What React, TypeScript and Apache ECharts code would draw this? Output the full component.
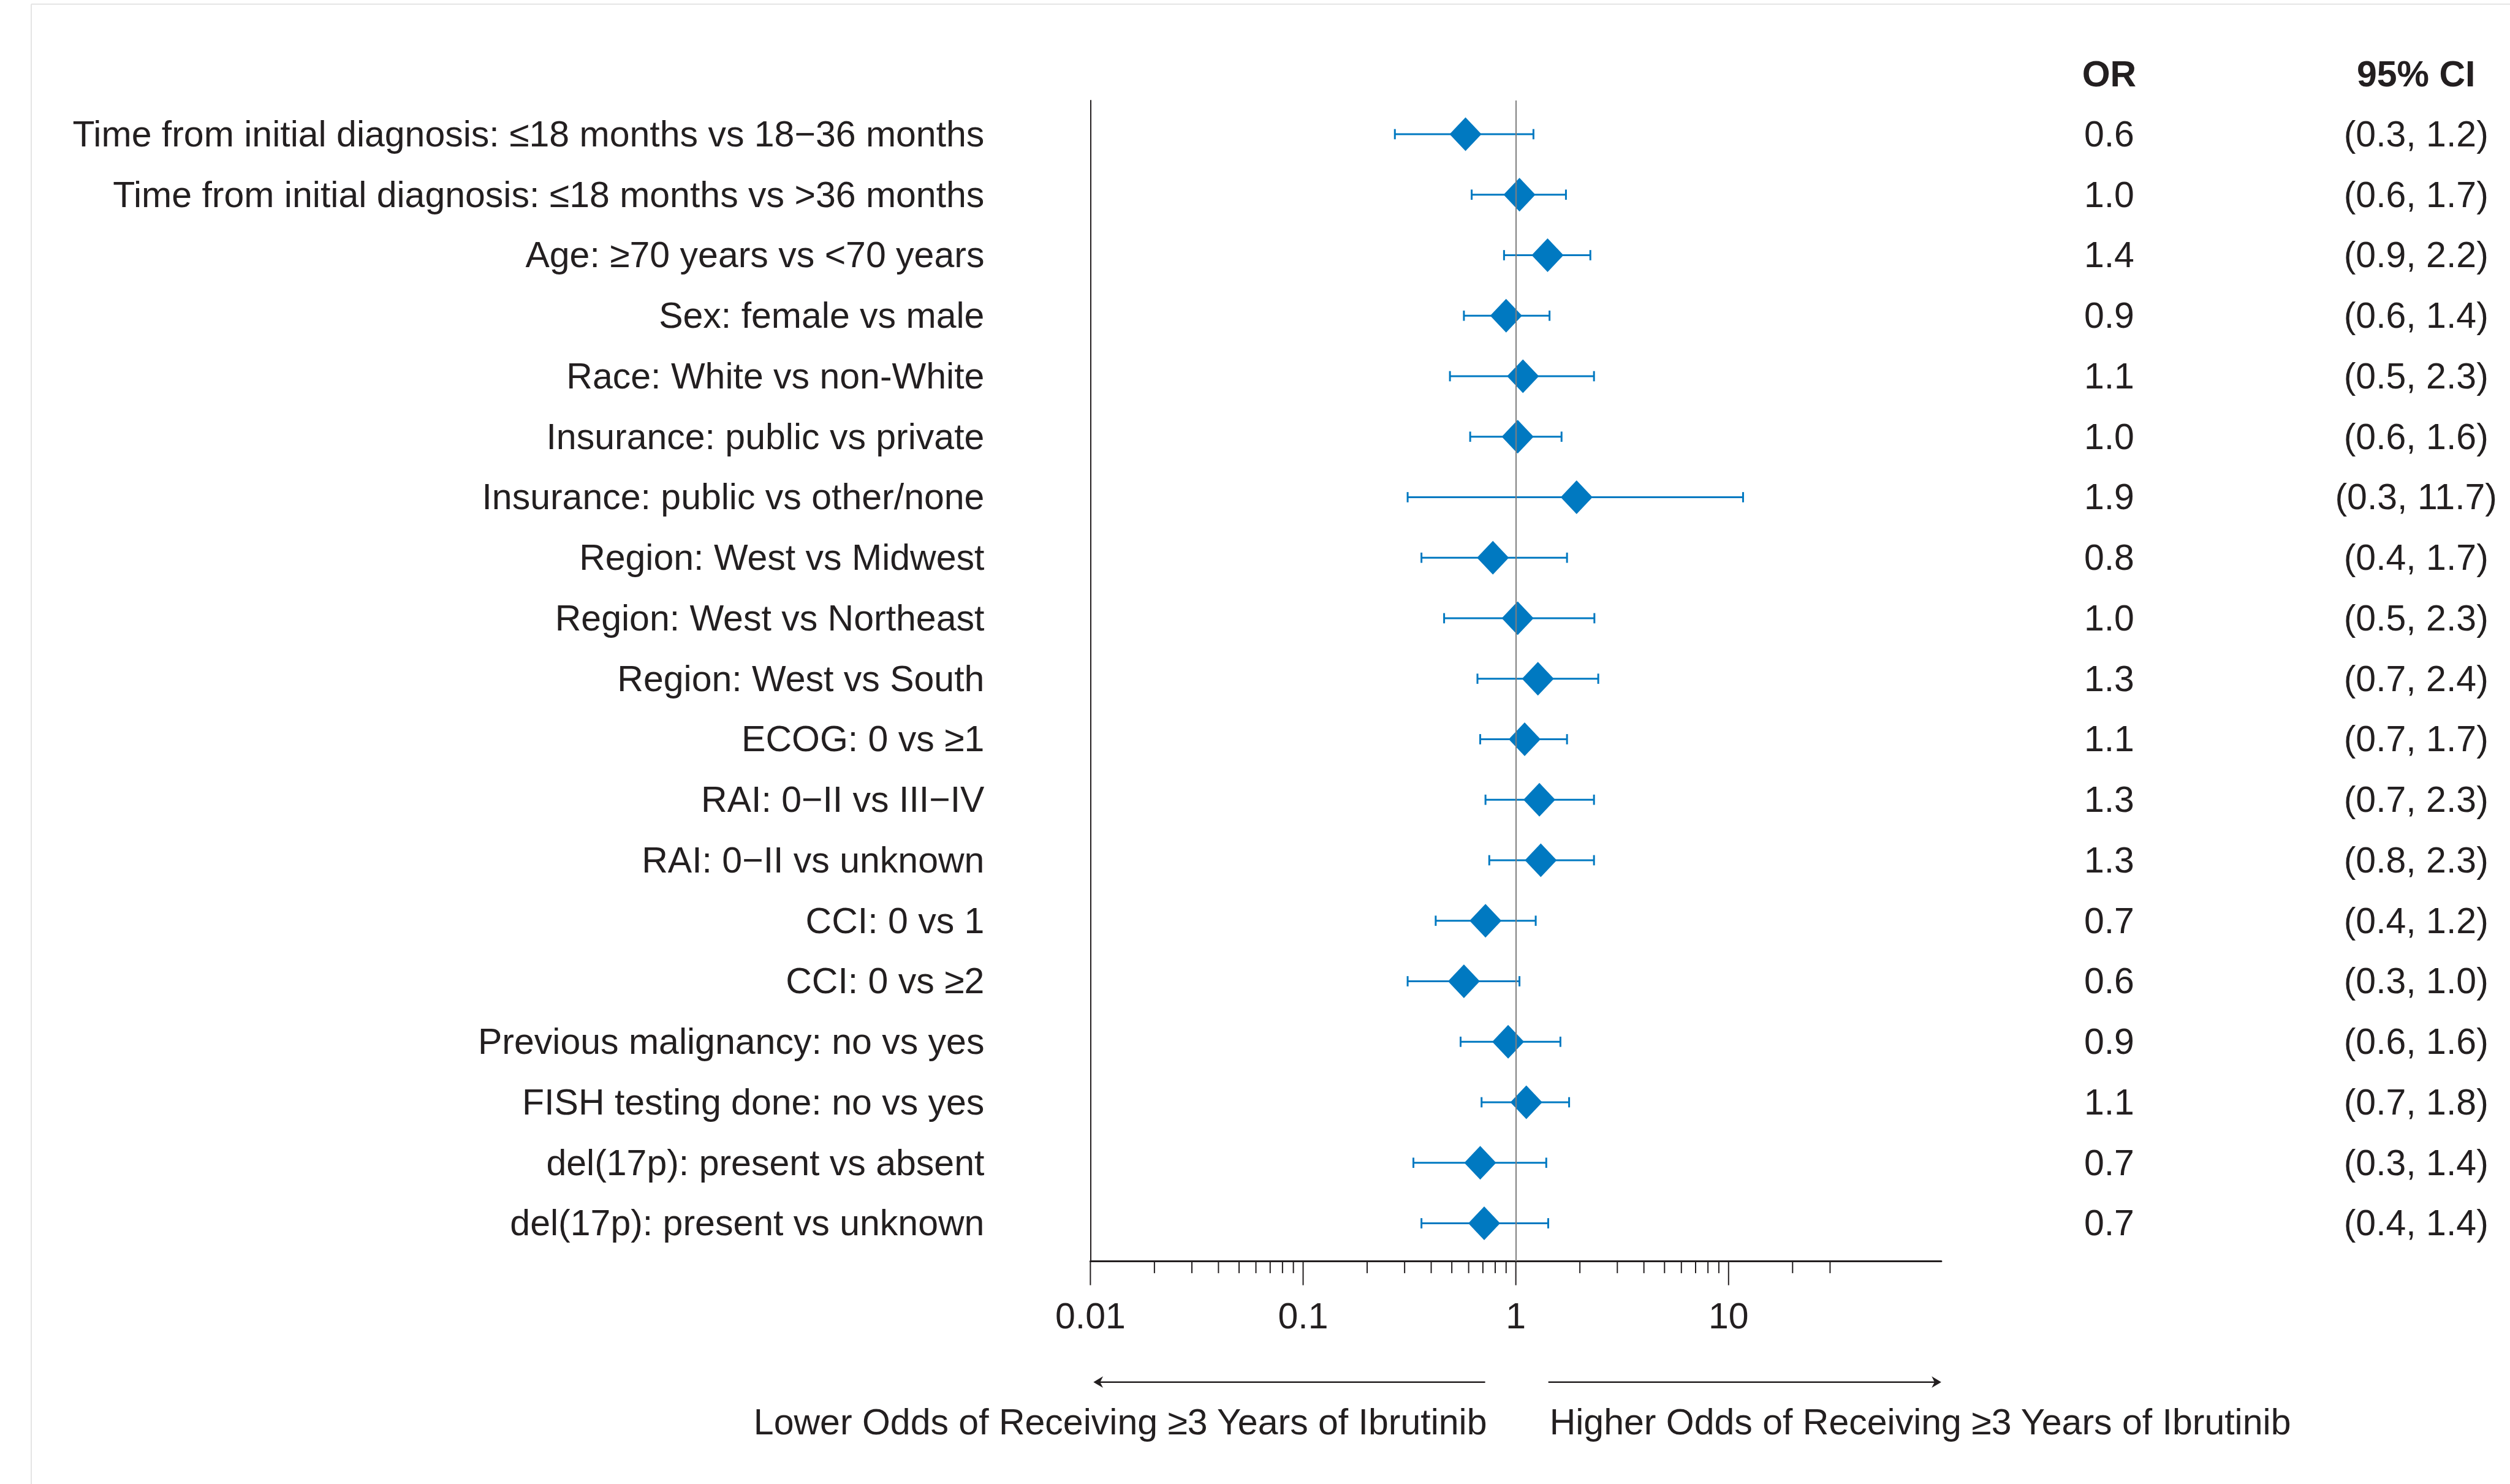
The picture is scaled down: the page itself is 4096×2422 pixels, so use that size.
import React, { useEffect, useRef } from "react";
import * as echarts from "echarts";

// ---------- data ----------
const rowLabels = [
  "Time from initial diagnosis: ≤18 months vs 18−36 months",
  "Time from initial diagnosis: ≤18 months vs >36 months",
  "Age: ≥70 years vs <70 years",
  "Sex: female vs male",
  "Race: White vs non-White",
  "Insurance: public vs private",
  "Insurance: public vs other/none",
  "Region: West vs Midwest",
  "Region: West vs Northeast",
  "Region: West vs South",
  "ECOG: 0 vs ≥1",
  "RAI: 0−II vs III−IV",
  "RAI: 0−II vs unknown",
  "CCI: 0 vs 1",
  "CCI: 0 vs ≥2",
  "Previous malignancy: no vs yes",
  "FISH testing done: no vs yes",
  "del(17p): present vs absent",
  "del(17p): present vs unknown",
];
const orValues = [0.58, 1.04, 1.41, 0.9, 1.08, 1.02, 1.93, 0.78, 1.02, 1.27, 1.1, 1.29, 1.31, 0.72, 0.57, 0.92, 1.12, 0.68, 0.71];
const ciLower = [0.27, 0.62, 0.88, 0.57, 0.49, 0.61, 0.31, 0.36, 0.46, 0.66, 0.68, 0.72, 0.75, 0.42, 0.31, 0.55, 0.69, 0.33, 0.36];
const ciUpper = [1.21, 1.72, 2.24, 1.44, 2.33, 1.64, 11.7, 1.74, 2.34, 2.44, 1.74, 2.33, 2.33, 1.24, 1.04, 1.62, 1.78, 1.39, 1.42];
const orText = ["0.6", "1.0", "1.4", "0.9", "1.1", "1.0", "1.9", "0.8", "1.0", "1.3", "1.1", "1.3", "1.3", "0.7", "0.6", "0.9", "1.1", "0.7", "0.7"];
const ciText = [
  "(0.3, 1.2)", "(0.6, 1.7)", "(0.9, 2.2)", "(0.6, 1.4)", "(0.5, 2.3)", "(0.6, 1.6)", "(0.3, 11.7)",
  "(0.4, 1.7)", "(0.5, 2.3)", "(0.7, 2.4)", "(0.7, 1.7)", "(0.7, 2.3)", "(0.8, 2.3)", "(0.4, 1.2)",
  "(0.3, 1.0)", "(0.6, 1.6)", "(0.7, 1.8)", "(0.3, 1.4)", "(0.4, 1.4)",
];
const majorTicks = [0.01, 0.1, 1, 10];
const minorTicks = [
  0.02, 0.03, 0.04, 0.05, 0.06, 0.07, 0.08, 0.09,
  0.2, 0.3, 0.4, 0.5, 0.6, 0.7, 0.8, 0.9,
  2, 3, 4, 5, 6, 7, 8, 9,
  20, 30,
];
const xMin = 0.01;
const xMax = 100;
const headerOR = "OR";
const headerCI = "95% CI";
const lowerText = "Lower Odds of Receiving ≥3 Years of Ibrutinib";
const higherText = "Higher Odds of Receiving ≥3 Years of Ibrutinib";

// ---------- layout (reference px, scaled by S) ----------
const S = 0.982;
const GRID_L = 1812;
const GRID_R = 3226;
const TOP_Y = 167;
const AXIS_Y = 2096;
const ROW0 = 223;
const ROW_STEP = 100.56;
const N = rowLabels.length;
const yMin = -(ROW0 - TOP_Y) / ROW_STEP;
const yMax = (AXIS_Y - ROW0) / ROW_STEP;

const FONT = "'Liberation Sans', Arial, Helvetica, sans-serif";
const TXT = "#231f20";
const BLUE = "#0079c1";
const FS = 59;

export default function App() {
  const ref = useRef<HTMLDivElement>(null);
  useEffect(() => {
    if (!ref.current) return;
    const chart = echarts.init(ref.current, null, { renderer: "svg" });

    const gLeft = GRID_L * S;
    const gWidth = (GRID_R - GRID_L) * S;
    const tickData = [
      ...majorTicks.map((v) => [v, yMax, 1]),
      ...minorTicks.map((v) => [v, yMax, 0]),
    ];
    const errData = orValues.map((_, i) => [ciLower[i], ciUpper[i], i]);
    const ptData = orValues.map((v, i) => [v, i]);

    const arrowY = 2297 * S;
    const lx1 = (GRID_L + 5) * S;
    const lx2 = 2468 * S;
    const rx1 = 2573 * S;
    const rx2 = GRID_R * S;
    const ah = 9.5 * S;
    const al = 16 * S;

    const option: any = {
      animation: false,
      backgroundColor: "#ffffff",
      textStyle: { fontFamily: FONT },
      grid: [
        { left: gLeft, width: gWidth, top: TOP_Y * S, height: (AXIS_Y - TOP_Y) * S, containLabel: false },
        { left: gLeft, width: gWidth, top: (ROW0 - ROW_STEP / 2) * S, height: N * ROW_STEP * S, containLabel: false },
      ],
      xAxis: [
        {
          type: "log",
          logBase: 10,
          gridIndex: 0,
          min: xMin,
          max: xMax,
          axisLine: { show: true, onZero: false, lineStyle: { color: TXT, width: 3 } },
          axisTick: { show: false },
          splitLine: { show: false },
          axisLabel: {
            show: true,
            margin: 90,
            verticalAlign: "middle",
            fontSize: FS,
            color: TXT,
            fontFamily: FONT,
            formatter: (v: number) => (v >= 99 ? "" : String(+Number(v).toPrecision(3))),
          },
        },
        {
          type: "log",
          logBase: 10,
          gridIndex: 1,
          min: xMin,
          max: xMax,
          show: false,
        },
      ],
      yAxis: [
        {
          type: "value",
          gridIndex: 0,
          min: yMin,
          max: yMax,
          inverse: true,
          axisLine: { show: true, onZero: false, lineStyle: { color: TXT, width: 2 } },
          axisTick: { show: false },
          axisLabel: { show: false },
          splitLine: { show: false },
        },
        {
          type: "category",
          gridIndex: 1,
          data: rowLabels,
          inverse: true,
          axisLine: { show: false },
          axisTick: { show: false },
          splitLine: { show: false },
          axisLabel: { interval: 0, margin: 173, fontSize: FS, color: TXT, fontFamily: FONT },
        },
        {
          type: "category",
          gridIndex: 1,
          position: "right",
          data: orText,
          inverse: true,
          axisLine: { show: false },
          axisTick: { show: false },
          splitLine: { show: false },
          axisLabel: { interval: 0, margin: 3505 * S - GRID_R * S, align: "center", fontSize: FS, color: TXT, fontFamily: FONT },
        },
        {
          type: "category",
          gridIndex: 1,
          position: "right",
          data: ciText,
          inverse: true,
          axisLine: { show: false },
          axisTick: { show: false },
          splitLine: { show: false },
          axisLabel: { interval: 0, margin: 4015 * S - GRID_R * S, align: "center", fontSize: FS, color: TXT, fontFamily: FONT },
        },
      ],
      series: [
        {
          type: "custom",
          name: "ticks",
          xAxisIndex: 0,
          yAxisIndex: 0,
          clip: false,
          z: 2,
          silent: true,
          encode: { x: 0, y: 1 },
          data: tickData,
          renderItem: (params: any, api: any) => {
            const p = api.coord([api.value(0), api.value(1)]);
            const len = api.value(2) ? 40 * S : 20 * S;
            return {
              type: "line",
              shape: { x1: p[0], y1: p[1], x2: p[0], y2: p[1] + len },
              style: { stroke: TXT, lineWidth: 2 },
            };
          },
          markLine: {
            silent: true,
            symbol: ["none", "none"],
            label: { show: false },
            lineStyle: { color: "#7f7f7f", width: 2, type: "solid" },
            data: [{ xAxis: 1 }],
          },
        },
        {
          type: "custom",
          name: "ci",
          xAxisIndex: 0,
          yAxisIndex: 0,
          clip: false,
          z: 3,
          silent: true,
          encode: { x: [0, 1], y: 2 },
          data: errData,
          renderItem: (params: any, api: any) => {
            const a = api.coord([api.value(0), api.value(2)]);
            const b = api.coord([api.value(1), api.value(2)]);
            const c = 8.5 * S;
            const st = { stroke: BLUE, lineWidth: 3 };
            return {
              type: "group",
              children: [
                { type: "line", shape: { x1: a[0], y1: a[1], x2: b[0], y2: b[1] }, style: st },
                { type: "line", shape: { x1: a[0], y1: a[1] - c, x2: a[0], y2: a[1] + c }, style: st },
                { type: "line", shape: { x1: b[0], y1: b[1] - c, x2: b[0], y2: b[1] + c }, style: st },
              ],
            };
          },
        },
        {
          type: "scatter",
          name: "OR",
          xAxisIndex: 0,
          yAxisIndex: 0,
          z: 4,
          silent: true,
          symbol: "diamond",
          symbolSize: [53 * S, 56 * S],
          itemStyle: { color: BLUE, opacity: 1 },
          data: ptData,
        },
      ],
      graphic: [
        // frame
        { type: "line", shape: { x1: 52 * S, y1: 7 * S, x2: 52 * S, y2: 2422 }, style: { stroke: "#e4e4e4", lineWidth: 2 } },
        { type: "line", shape: { x1: 52 * S, y1: 7 * S, x2: 4096, y2: 7 * S }, style: { stroke: "#e4e4e4", lineWidth: 2 } },
        // headers
        {
          type: "text",
          x: 3505 * S,
          y: 123 * S,
          style: { text: headerOR, fontSize: FS, fontWeight: "bold", fill: TXT, fontFamily: FONT, align: "center", verticalAlign: "middle" },
        },
        {
          type: "text",
          x: 4015 * S,
          y: 123 * S,
          style: { text: headerCI, fontSize: FS, fontWeight: "bold", fill: TXT, fontFamily: FONT, align: "center", verticalAlign: "middle" },
        },
        // arrows
        { type: "line", shape: { x1: lx1 + al * 0.6, y1: arrowY, x2: lx2, y2: arrowY }, style: { stroke: TXT, lineWidth: 2.5 } },
        {
          type: "polygon",
          shape: { points: [[lx1, arrowY], [lx1 + al, arrowY - ah], [lx1 + al * 0.7, arrowY], [lx1 + al, arrowY + ah]] },
          style: { fill: TXT },
        },
        { type: "line", shape: { x1: rx1, y1: arrowY, x2: rx2 - al * 0.6, y2: arrowY }, style: { stroke: TXT, lineWidth: 2.5 } },
        {
          type: "polygon",
          shape: { points: [[rx2, arrowY], [rx2 - al, arrowY - ah], [rx2 - al * 0.7, arrowY], [rx2 - al, arrowY + ah]] },
          style: { fill: TXT },
        },
        {
          type: "text",
          x: 2471 * S,
          y: 2364 * S,
          style: { text: lowerText, fontSize: FS, fill: TXT, fontFamily: FONT, align: "right", verticalAlign: "middle" },
        },
        {
          type: "text",
          x: 2575 * S,
          y: 2364 * S,
          style: { text: higherText, fontSize: FS, fill: TXT, fontFamily: FONT, align: "left", verticalAlign: "middle" },
        },
      ],
    };
    chart.setOption(option);
    return () => chart.dispose();
  }, []);

  return (
    <div
      ref={ref}
      style={{ position: "fixed", left: 0, top: 0, width: "4096px", height: "2422px", background: "#ffffff" }}
    />
  );
}
